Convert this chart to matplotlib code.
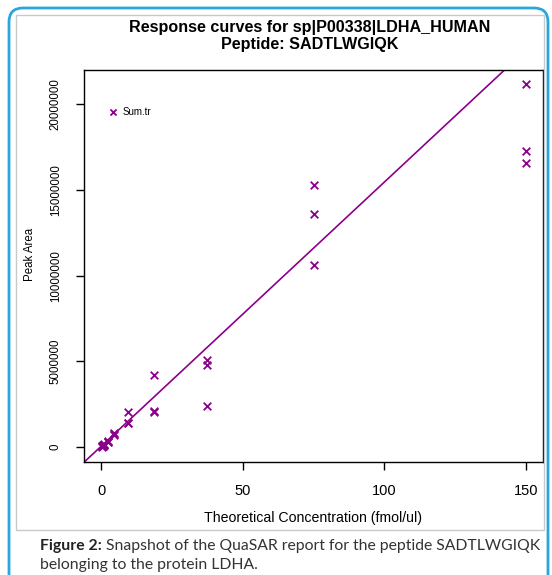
import matplotlib
matplotlib.use('Agg')
import matplotlib.pyplot as plt
from matplotlib.patches import FancyBboxPatch, Rectangle
from matplotlib.transforms import IdentityTransform

# theoretical concentration (fmol/ul), triplicates
conc = [150, 150, 150,
        75, 75, 75,
        37.5, 37.5, 37.5,
        18.75, 18.75, 18.75,
        9.375, 9.375, 9.375,
        4.6875, 4.6875, 4.6875,
        2.34375, 2.34375, 2.34375,
        1.171875, 1.171875, 1.171875,
        0.5859375, 0.5859375, 0.5859375,
        0.29296875, 0.29296875, 0.29296875]
# peak area
area = [21200000, 17250000, 16600000,
        15300000, 13600000, 10650000,
        5100000, 4800000, 2400000,
        4200000, 2080000, 2050000,
        2050000, 1430000, 1400000,
        820000, 780000, 720000,
        380000, 320000, 280000,
        200000, 150000, 120000,
        100000, 80000, 60000,
        50000, 40000, 30000]

# regression line shown in the report
fit_slope = 154200
fit_intercept = 40000

x_ticks = [0, 50, 100, 150]
y_ticks = [0, 5000000, 10000000, 15000000, 20000000]

W, H = 552, 575
purple = '#8B008B'
plt.rcParams['font.family'] = ['Liberation Sans', 'DejaVu Sans']

fig = plt.figure(figsize=(W / 100, H / 100), dpi=100)

# blue frame of the journal figure and grey frame of the screenshot
fig.patches.append(FancyBboxPatch((9, -20), 539, H - 8 + 20,
                                  boxstyle='round,pad=0,rounding_size=14',
                                  transform=IdentityTransform(), fill=False,
                                  edgecolor='#2aa6dd', lw=2))
fig.patches.append(Rectangle((16, H - 530), 528, 515,
                             transform=IdentityTransform(), fill=False,
                             edgecolor='#c9c9c9', lw=1))

ax = fig.add_axes([84 / W, 1 - 462 / H, (543 - 84) / W, (462 - 70) / H])
ax.scatter(conc, area, marker='x', s=30, color=purple, linewidths=1.3,
           label='Sum.tr', zorder=3)
ax.axline((0, fit_intercept), slope=fit_slope, color=purple, lw=1.2)

ax.set_xlim(-6, 156)
ax.set_ylim(-870000, 22000000)
ax.set_xticks(x_ticks)
ax.set_yticks(y_ticks)
ax.set_yticklabels([str(v) for v in y_ticks])
ax.tick_params(length=6, width=1, pad=10)
ax.tick_params(axis='x', labelsize=10.5)
ax.tick_params(axis='y', labelsize=8.3, labelrotation=90)
for lab in ax.get_yticklabels():
    lab.set_va('center')
for sp in ax.spines.values():
    sp.set_linewidth(1)

ax.set_xlabel('Theoretical Concentration (fmol/ul)', fontsize=10.2)
ax.xaxis.set_label_coords(0.5, -0.125)
ax.set_ylabel('Peak Area', fontsize=8.3)
ax.yaxis.set_label_coords(-0.105, 0.53)

ax.legend(loc='center left', bbox_to_anchor=(108 / W, 1 - 112 / H),
          bbox_transform=fig.transFigure, frameon=False, fontsize=7,
          borderpad=0, borderaxespad=0, handlelength=1, handletextpad=0.5,
          markerscale=0.8)

fig.text(310 / W, 1 - 36 / H,
         'Response curves for sp|P00338|LDHA_HUMAN\nPeptide: SADTLWGIQK',
         ha='center', va='center', fontsize=11.6, fontweight='bold',
         linespacing=1.1)

cap = fig.text(40 / W, 1 - 553 / H, 'Figure 2:', fontsize=11.3,
               fontweight='bold', family='Lato', color='#222222', va='bottom')
ax.annotate(' Snapshot of the QuaSAR report for the peptide SADTLWGIQK',
            xy=(1, 0), xycoords=cap, va='bottom', fontsize=11.3,
            family='Lato', color='#333333', annotation_clip=False)
fig.text(40 / W, 1 - 572 / H, 'belonging to the protein LDHA.', fontsize=11.3,
         family='Lato', color='#333333', va='bottom')

fig.savefig('out.png', dpi=100)
